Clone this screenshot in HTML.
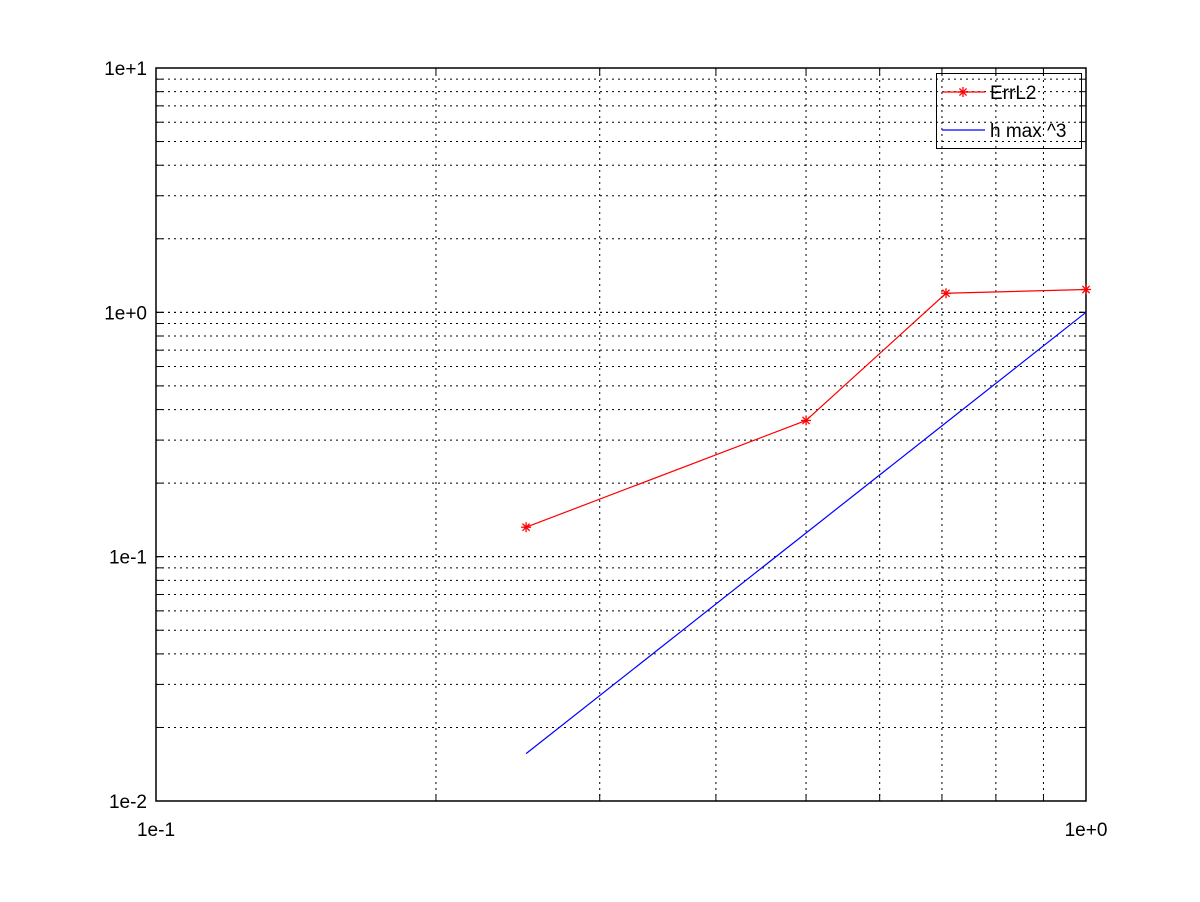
<!DOCTYPE html>
<html><head><meta charset="utf-8"><style>
html,body{margin:0;padding:0;background:#fff;}
svg{display:block;font-family:"Liberation Sans",sans-serif;}
</style></head><body>
<svg id="chart" width="1200" height="902" xmlns="http://www.w3.org/2000/svg"></svg>
<script>
const hValues=[0.25,0.5,0.7071,1.0];
const errL2=[0.132,0.361,1.197,1.24];
const hCubed=[0.015625,0.125,0.3536,1.0];
const xTickLabels=["1e-1","1e+0"];
const yTickLabels=["1e-2","1e-1","1e+0","1e+1"];
const seriesNames=["ErrL2","h max ^3"];

const L=156,R=1086,T=68,B=801;
const xMinLog=-1,xMaxLog=0,yMinLog=-2,yMaxLog=1;
function xs(v){return L+(Math.log10(v)-xMinLog)/(xMaxLog-xMinLog)*(R-L);}
function ys(v){return B-(Math.log10(v)-yMinLog)/(yMaxLog-yMinLog)*(B-T);}
const svg=document.getElementById('chart');
const NS="http://www.w3.org/2000/svg";
function mk(tag,attrs,parent){const e=document.createElementNS(NS,tag);for(const k in attrs)e.setAttribute(k,attrs[k]);(parent||svg).appendChild(e);return e;}

const grid=mk('g',{});


for(let d=xMinLog;d<xMaxLog;d++){for(let m=1;m<=10;m++){const v=m*Math.pow(10,d);const x=xs(v);
 if(x<=L+0.5||x>=R-0.5)continue;
 mk('line',{x1:x,x2:x,y1:T,y2:B,stroke:'#000','stroke-width':1,'stroke-dasharray':'2,4'},grid);
 mk('line',{x1:x,x2:x,y1:B,y2:B-7,stroke:'#000'},grid);
 mk('line',{x1:x,x2:x,y1:T,y2:T+7,stroke:'#000'},grid);}}
for(let d=yMinLog;d<yMaxLog;d++){for(let m=1;m<=10;m++){const v=m*Math.pow(10,d);const y=ys(v);
 if(y>=B-0.5||y<=T+0.5)continue;
 mk('line',{x1:L,x2:R,y1:y,y2:y,stroke:'#000','stroke-width':1,'stroke-dasharray':'2,4'},grid);
 mk('line',{x1:L,x2:L+7,y1:y,y2:y,stroke:'#000'},grid);
 mk('line',{x1:R,x2:R-7,y1:y,y2:y,stroke:'#000'},grid);}}

const frame=mk('rect',{x:L,y:T,width:R-L,height:B-T,fill:'none',stroke:'#000','stroke-width':1.5});



xTickLabels.forEach((t,i)=>{const v=Math.pow(10,xMinLog+i);
 const e=mk('text',{x:xs(v),y:836,'text-anchor':'middle','font-size':19});e.textContent=t;
 
 });
yTickLabels.forEach((t,i)=>{const v=Math.pow(10,yMinLog+i);
 const e=mk('text',{x:147,y:ys(v)+7,'text-anchor':'end','font-size':19});e.textContent=t;
 
 });

const blue=mk('polyline',{points:hValues.map((h,i)=>xs(h)+','+ys(hCubed[i])).join(' '),fill:'none',stroke:'#0000ff','stroke-width':1.2});


const red=mk('polyline',{points:hValues.map((h,i)=>xs(h)+','+ys(errL2[i])).join(' '),fill:'none',stroke:'#ff0000','stroke-width':1.2});


function star(cx,cy,g){const r=5;
 mk('line',{x1:cx-r,x2:cx+r,y1:cy,y2:cy,stroke:'#f00','stroke-width':1.3},g);
 mk('line',{x1:cx,x2:cx,y1:cy-r,y2:cy+r,stroke:'#f00','stroke-width':1.3},g);
 mk('line',{x1:cx-3.6,x2:cx+3.6,y1:cy-3.6,y2:cy+3.6,stroke:'#f00','stroke-width':1.3},g);
 mk('line',{x1:cx-3.6,x2:cx+3.6,y1:cy+3.6,y2:cy-3.6,stroke:'#f00','stroke-width':1.3},g);}
hValues.forEach((h,i)=>{const g=mk('g',{});
 
 
 star(xs(h),ys(errL2[i]),g);});

const lg=mk('g',{});


mk('rect',{x:936.5,y:73.5,width:145,height:75,fill:'none',stroke:'#000'},lg);
mk('line',{x1:942,x2:985,y1:92,y2:92,stroke:'#f00','stroke-width':1.2},lg);
star(963,92,lg);
const t1=mk('text',{x:990,y:99,'font-size':19},lg);t1.textContent=seriesNames[0];


mk('line',{x1:942,x2:985,y1:130,y2:130,stroke:'#00f','stroke-width':1.2},lg);
const t2=mk('text',{x:990,y:137,'font-size':19},lg);t2.textContent=seriesNames[1];


</script>
</body></html>
